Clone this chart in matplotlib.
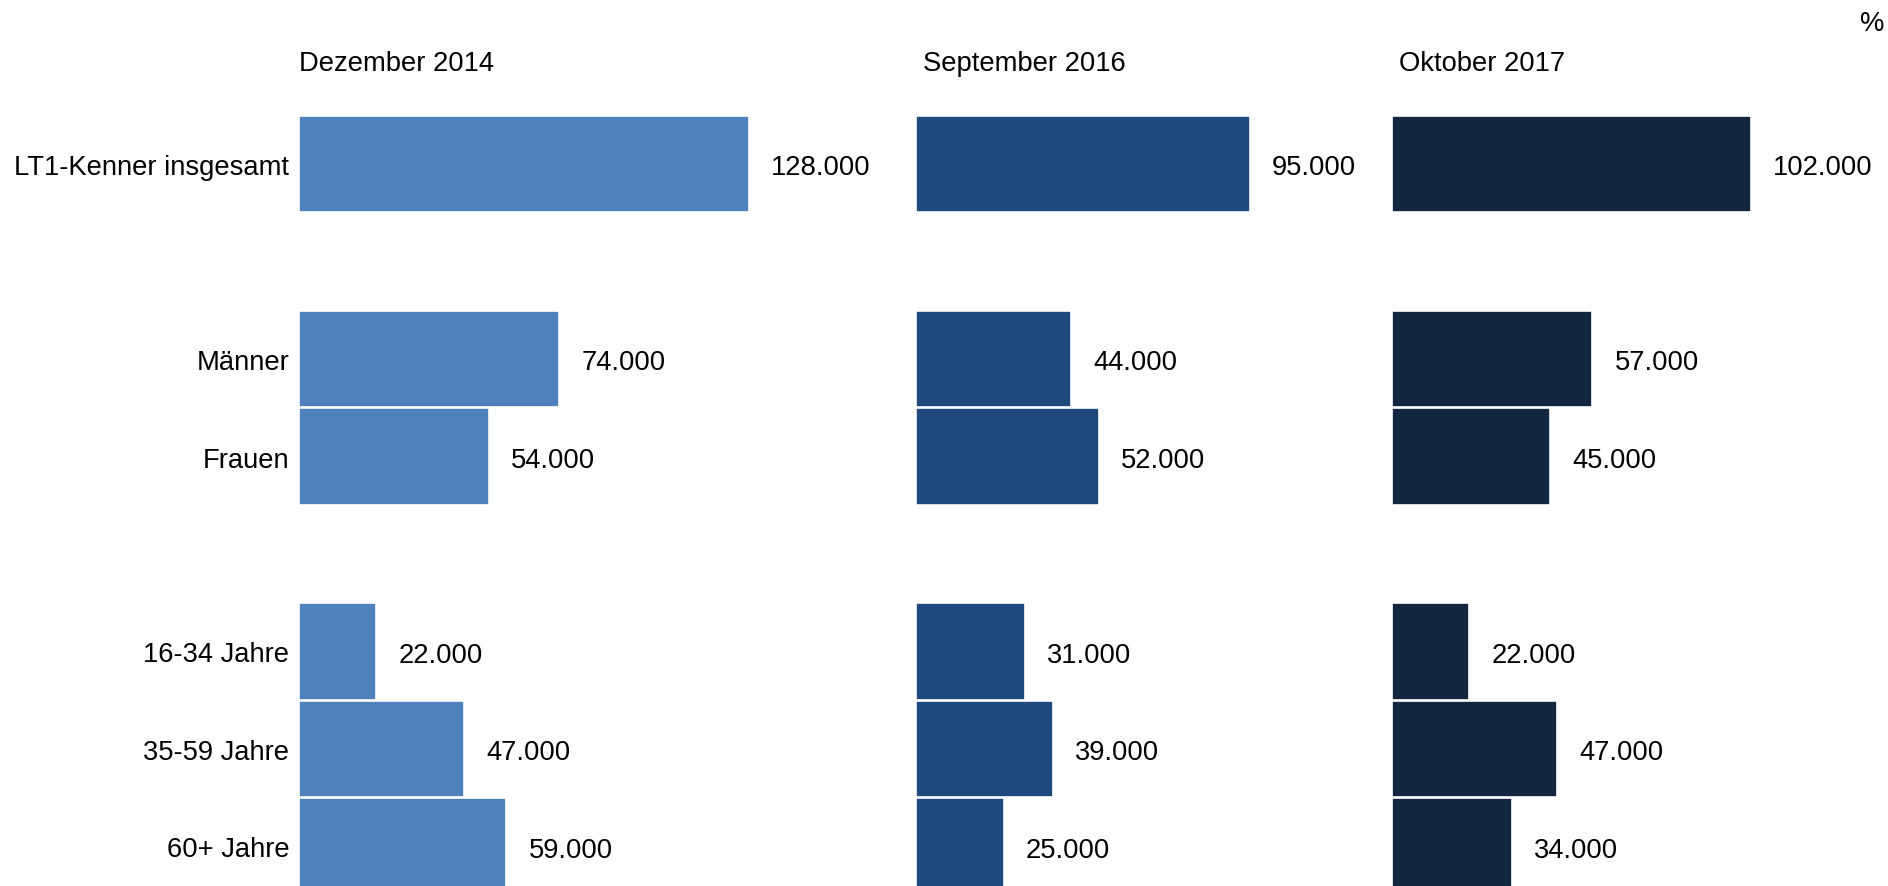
import matplotlib.pyplot as plt

plt.rcParams["font.family"] = ["Liberation Sans", "DejaVu Sans"]

# rows with gaps between the groups
categories = ["LT1-Kenner insgesamt", "", "Männer", "Frauen", "", "16-34 Jahre", "35-59 Jahre", "60+ Jahre"]
periods = ["Dezember 2014", "September 2016", "Oktober 2017"]
dez_2014 = [128000, None, 74000, 54000, None, 22000, 47000, 59000]
sep_2016 = [95000, None, 44000, 52000, None, 31000, 39000, 25000]
okt_2017 = [102000, None, 57000, 45000, None, 22000, 47000, 34000]
colors = ["#4F81BD", "#1F497D", "#12263F"]

W, H = 1888, 887
fig = plt.figure(figsize=(W / 100, H / 100), dpi=100)

px_per_unit = 3.516 / 1000  # pixels per person
panel_left = [299, 916, 1392]
panel_right = [916, 1392, 1888]
row_pitch = 97.5
top_px = 165 - row_pitch / 2
n_rows = (H - top_px) / row_pitch
fs = 19.7

for k, series in enumerate([dez_2014, sep_2016, okt_2017]):
    left = panel_left[k]
    width = panel_right[k] - left
    ax = fig.add_axes([left / W, 0, width / W, (H - top_px) / H])
    ys = [i for i, v in enumerate(series) if v is not None]
    vals = [series[i] for i in ys]
    ax.barh(ys, vals, height=0.985, color=colors[k], edgecolor="white", linewidth=1.2)
    for y, v in zip(ys, vals):
        ax.annotate(f"{v:,}".replace(",", "."), (v, y), xytext=(16, -2.5),
                    textcoords="offset points", va="center", ha="left", fontsize=fs)
    ax.set_xlim(0, width / px_per_unit)
    ax.set_ylim(-0.5 + n_rows, -0.5)
    for s in ax.spines.values():
        s.set_visible(False)
    ax.set_xticks([])
    if k == 0:
        ax.set_yticks(range(len(categories)))
        ax.set_yticklabels(categories, fontsize=fs)
        ax.tick_params(axis="y", length=0, pad=7)
    else:
        ax.set_yticks([])
    fig.text((left + (0 if k == 0 else 7)) / W, 1 - 64 / H, periods[k],
             fontsize=fs, va="center", ha="left")

fig.text(1884 / W, 1 - 24 / H, "%", fontsize=fs, va="center", ha="right")

fig.savefig("out.png", dpi=100)
